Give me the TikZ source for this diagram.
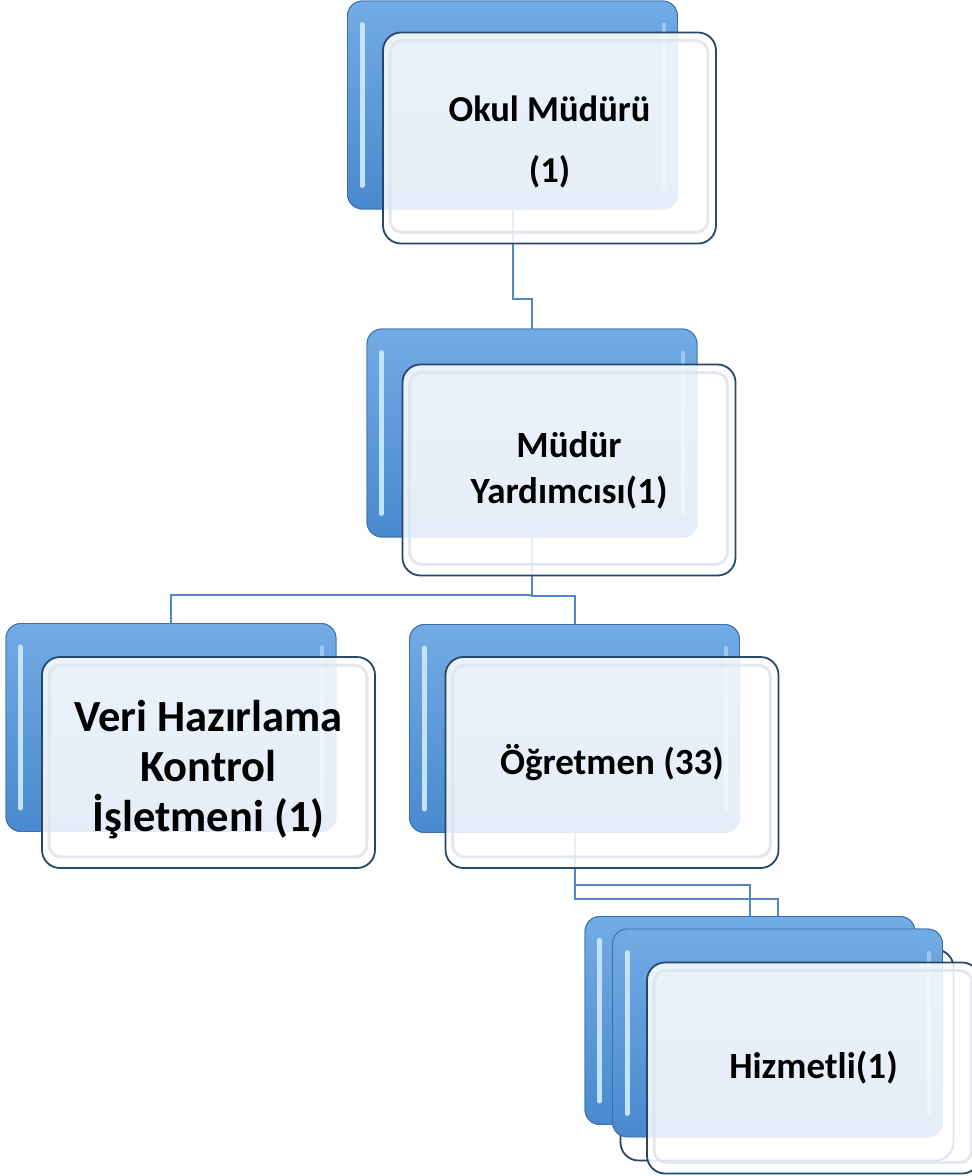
\documentclass[tikz,border=0pt]{standalone}
\usepackage{fontspec}
\setmainfont{Carlito}
\usetikzlibrary{calc}
\definecolor{conncol}{HTML}{5187C7}
\definecolor{bluetop}{HTML}{72ABE5}
\definecolor{bluebot}{HTML}{4A89CE}
\definecolor{blueedge}{HTML}{3A6EAC}
\definecolor{frontedge}{HTML}{26466A}
\definecolor{glint}{HTML}{C2E5FD}
\definecolor{inneredge}{HTML}{DCE3EC}
\tikzset{
  conn/.style={draw=conncol, line width=2pt},
  backbox/.style={rectangle, rounded corners=15pt, minimum width=330pt, minimum height=208pt,
    draw=blueedge, line width=0.9pt, top color=bluetop, bottom color=bluebot, inner sep=0pt},
  frontbox/.style={rectangle, rounded corners=18pt, minimum width=333pt, minimum height=211pt,
    draw=frontedge, line width=1.8pt, fill=white, fill opacity=0.86, text opacity=1,
    inner sep=0pt, align=center, text=black},
  glintline/.style={draw=glint, line width=5pt, line cap=round},
  glintfaint/.style={draw=glint, line width=4pt, line cap=round, draw opacity=0.55},
  innerrim/.style={draw=inneredge, line width=3pt, rounded corners=12pt, draw opacity=0.8},
}
\newcommand{\bluegloss}[1]{%
  \draw[glintline] ($(#1.north west)+(15pt,-24pt)$) -- ($(#1.south west)+(15pt,24pt)$);
  \draw[glintfaint] ($(#1.north east)+(-14pt,-24pt)$) -- ($(#1.south east)+(-14pt,24pt)$);}
\newcommand{\glassrim}[1]{%
  \draw[innerrim] ($(#1.north west)+(8pt,-9pt)$) rectangle ($(#1.south east)+(-9pt,12pt)$);}
\begin{document}
\begin{tikzpicture}[x=1pt,y=-1pt]
\useasboundingbox (0,0) rectangle (972,1176);
% back boxes placed first (for connector anchors)
\node[backbox] (okB) at (512.5,105) {};
\node[backbox] (myB) at (532,433) {};
\node[backbox] (vhB) at (171,727.5) {};
\node[backbox] (ogB) at (574.5,728.5) {};
\node[backbox] (hAB) at (750,1020.5) {};
\node[backbox] (hBB) at (777.5,1033) {};
% connectors
\draw[conn] (okB.south) |- ($(myB.north)+(0pt,30pt)$) -| (myB.north);
\draw[conn] (myB.south) |- ($(vhB.north)+(0pt,28pt)$) -| (vhB.north);
\draw[conn] (myB.south) |- ($(ogB.north)+(0pt,28pt)$) -| (ogB.north);
\draw[conn] (ogB.south) |- ($(hAB.north)+(0pt,31pt)$) -| (hAB.north);
\draw[conn] (ogB.south) |- ($(hBB.north)+(0pt,30pt)$) -| (hBB.north);
% group: Okul Müdürü
\node[backbox] at (okB) {};
\bluegloss{okB}
\node[frontbox, font=\bfseries\fontsize{36.5}{61}\selectfont] (okF) at (549.5,138) {\rule{0pt}{33pt}Okul Müdürü\\(1)};
\glassrim{okF}
% group: Müdür Yardımcısı
\node[backbox] at (myB) {};
\bluegloss{myB}
\node[frontbox, font=\bfseries\fontsize{37}{46}\selectfont] (myF) at (569,470) {Müdür\\Yardımcısı(1)};
\glassrim{myF}
% group: Veri Hazırlama
\node[backbox] at (vhB) {};
\bluegloss{vhB}
\node[frontbox, font=\bfseries\fontsize{44.5}{50}\selectfont] (vhF) at (208.5,762.5) {\rule{0pt}{46pt}Veri Hazırlama\\Kontrol\\İşletmeni (1)};
\glassrim{vhF}
% group: Öğretmen
\node[backbox] at (ogB) {};
\bluegloss{ogB}
\node[frontbox, font=\bfseries\fontsize{37}{44}\selectfont] (ogF) at (612,762.5) {Öğretmen (33)};
\glassrim{ogF}
% group: Hizmetli (stacked)
\node[backbox] at (hAB) {};
\bluegloss{hAB}
\node[frontbox] (hAF) at (787,1055) {};
\node[backbox] at (hBB) {};
\bluegloss{hBB}
\node[frontbox, font=\bfseries\fontsize{37}{44}\selectfont] (hBF) at (813.5,1068) {Hizmetli(1)};
\glassrim{hBF}
\end{tikzpicture}
\end{document}
